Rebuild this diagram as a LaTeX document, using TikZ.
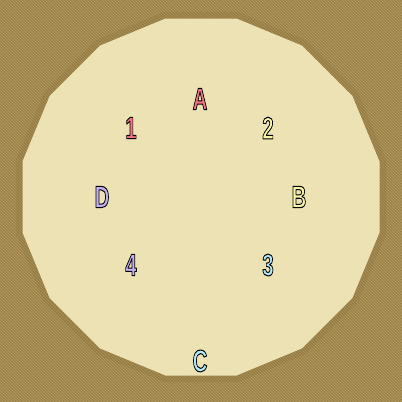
\documentclass[tikz,border=0pt]{standalone}
\usepackage{fontspec}
\newfontfamily\lblfont{Liberation Sans}

\definecolor{bgbrown}{RGB}{152,127,70}
\definecolor{bgstripe}{RGB}{176,152,92}
\definecolor{floorbeige}{RGB}{236,226,180}
\definecolor{edgeshade}{RGB}{120,98,50}
\definecolor{redlbl}{RGB}{242,118,130}
\definecolor{yellowlbl}{RGB}{246,246,165}
\definecolor{violetlbl}{RGB}{196,176,242}
\definecolor{cyanlbl}{RGB}{178,234,250}

% filled letter with a black stroke round it
\newcommand{\maplabel}[2]{\scalebox{0.66}[1]{\color{#1}%
  \special{pdf:code q 0 0 0 RG 2 Tr 0.75 w 1 j}#2\special{pdf:code Q}}}

\tikzset{
  lbl/.style={font=\lblfont\bfseries\fontsize{22}{22}\selectfont, inner sep=0pt},
}

\begin{document}
\begin{tikzpicture}[x=0.025cm,y=-0.025cm]
    % ground
    \fill[bgbrown] (0,0) rectangle (402,402);
    \begin{scope}
        \clip (0,0) rectangle (402,402);
        \foreach \i in {-402,-399,...,402}
            \draw[bgstripe,line width=0.6pt] (\i,0) -- (\i+402,402);
    \end{scope}
    % floor
    \draw[edgeshade,line width=8pt,opacity=0.15] (201,197) +(11.25:183)
        \foreach \k in {1,...,15} {-- +(11.25+\k*22.5:183)} -- cycle;
    \fill[floorbeige] (201,197) +(11.25:182)
        \foreach \k in {1,...,15} {-- +(11.25+\k*22.5:182)} -- cycle;
    % markers
    \node[lbl] (A) at (200,99) {\maplabel{redlbl}{A}};
    \node[lbl] (one) at (131,128) {\maplabel{redlbl}{1}};
    \node[lbl] (two) at (268,128) {\maplabel{yellowlbl}{2}};
    \node[lbl] (D) at (102,197) {\maplabel{violetlbl}{D}};
    \node[lbl] (B) at (299,197) {\maplabel{yellowlbl}{B}};
    \node[lbl] (four) at (131,265) {\maplabel{violetlbl}{4}};
    \node[lbl] (three) at (268,265) {\maplabel{cyanlbl}{3}};
    \node[lbl] (C) at (200,361) {\maplabel{cyanlbl}{C}};
\end{tikzpicture}
\end{document}
